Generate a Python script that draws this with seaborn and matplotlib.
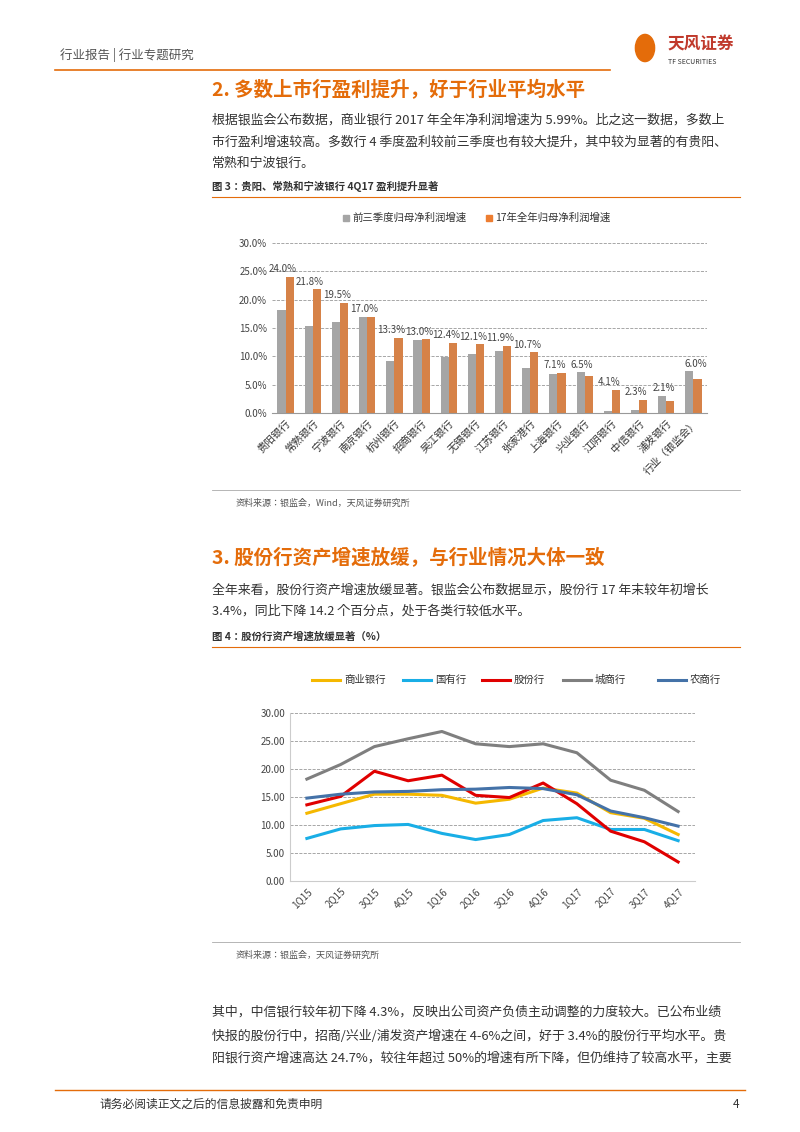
import matplotlib
matplotlib.use("Agg")
import matplotlib.pyplot as plt
from matplotlib import font_manager as fm
import seaborn as sns
import pandas as pd
import numpy as np

cjk = [f for f in fm.fontManager.ttflist if "CJK" in f.name]
names = sorted(set(f.name for f in cjk))
pick = next((n for n in names if n.endswith("SC")), names[0] if names else "DejaVu Sans")
plt.rcParams["font.family"] = [pick, "DejaVu Sans"]
print(names, pick)

banks = ["贵阳银行","常熟银行","宁波银行","南京银行","杭州银行","招商银行","吴江银行","无锡银行",
         "江苏银行","张家港行","上海银行","兴业银行","江阴银行","中信银行","浦发银行","行业（银监会）"]
q3_growth = [18.2,15.3,16.1,17.0,9.2,12.8,9.9,10.4,10.9,8.0,6.8,7.2,0.4,0.6,3.0,7.4]
fy_growth = [24.0,21.8,19.5,17.0,13.3,13.0,12.4,12.1,11.9,10.7,7.1,6.5,4.1,2.3,2.1,6.0]

quarters = ["1Q15","2Q15","3Q15","4Q15","1Q16","2Q16","3Q16","4Q16","1Q17","2Q17","3Q17","4Q17"]
commercial = [12.1,13.8,15.5,15.5,15.3,13.9,14.6,16.6,15.7,12.2,11.2,8.3]
state_owned = [7.6,9.3,9.9,10.1,8.5,7.4,8.3,10.8,11.3,9.2,9.2,7.2]
joint_stock = [13.6,15.1,19.6,17.9,18.9,15.3,14.9,17.5,13.8,8.9,7.0,3.4]
city = [18.2,20.8,24.0,25.4,26.7,24.5,24.0,24.5,22.9,18.0,16.2,12.4]
rural = [14.8,15.5,15.9,16.0,16.3,16.4,16.7,16.5,15.4,12.5,11.3,9.8]

W, H = 800, 1132
fig = plt.figure(figsize=(8, 11.32), dpi=100)
ORANGE = "#e46c0a"
def T(x, y, s, **kw):
    fig.text(x / W, 1 - y / H, s, va="center", **kw)
def HL(y, x0, x1, color, lw=0.8):
    fig.add_artist(plt.Line2D([x0 / W, x1 / W], [1 - y / H, 1 - y / H], color=color, lw=lw))

# header
T(60, 55, "行业报告 | 行业专题研究", fontsize=9, color="#555555")
HL(70, 55, 610, ORANGE, 1.2)
T(668, 45, "天风证券", fontsize=12, color="#c0392b", weight="bold")
T(668, 62, "TF SECURITIES", fontsize=5, color="#333333")
fig.add_artist(matplotlib.patches.Circle((645/W, 1-48/H), 0.012, transform=fig.transFigure, color=ORANGE))

# section 2
T(212, 90, "2. 多数上市行盈利提升，好于行业平均水平", fontsize=14, color=ORANGE, weight="bold")
for y, s in [(120, "根据银监会公布数据，商业银行 2017 年全年净利润增速为 5.99%。比之这一数据，多数上"),
             (142, "市行盈利增速较高。多数行 4 季度盈利较前三季度也有较大提升，其中较为显著的有贵阳、"),
             (163, "常熟和宁波银行。")]:
    T(212, y, s, fontsize=9.3, color="#333333")
T(212, 186, "图 3：贵阳、常熟和宁波银行 4Q17 盈利提升显著", fontsize=7.5, color="#333333", weight="bold")
HL(197, 212, 740, ORANGE, 0.8)

ax1 = fig.add_axes([272/W, 1-413/H, (707-272)/W, (413-243)/H])
df1 = pd.DataFrame({"bank": banks * 2,
                    "val": q3_growth + fy_growth,
                    "s": ["前三季度归母净利润增速"] * 16 + ["17年全年归母净利润增速"] * 16})
sns.barplot(data=df1, x="bank", y="val", hue="s", palette=["#a5a5a5", "#ed7d31"],
            width=0.6, ax=ax1, legend=False)
ax1.set_ylim(0, 30)
ax1.set_yticks(np.arange(0, 31, 5))
ax1.set_yticklabels([f"{v:.1f}%" for v in np.arange(0, 31, 5)], fontsize=7, color="#444")
ax1.set_xticks(range(16))
ax1.set_xticklabels(banks, rotation=45, ha="right", rotation_mode="anchor", fontsize=7.5, color="#333")
ax1.set_xlabel(""); ax1.set_ylabel("")
ax1.grid(axis="y", ls="--", color="#999", lw=0.6)
ax1.set_axisbelow(True)
for sp in ["top", "right", "left"]:
    ax1.spines[sp].set_visible(False)
ax1.spines["bottom"].set_color("#999")
ax1.tick_params(axis="y", length=0)
ax1.tick_params(axis="x", length=0)
for i, v in enumerate(fy_growth):
    ax1.text(i - 0.1 if i != 15 else i + 0.1, max(v, q3_growth[i]) + 0.8, f"{v:.1f}%", ha="center", fontsize=7, color="#444")
for xs, lab, c in [(352, "前三季度归母净利润增速", "#a5a5a5"), (495, "17年全年归母净利润增速", "#ed7d31")]:
    fig.add_artist(matplotlib.patches.Rectangle(((xs-9)/W, 1-221/H), 6/W, 6/H, transform=fig.transFigure, color=c))
    T(xs, 218, lab, fontsize=7.5, color="#333")
HL(490, 212, 740, "#aaaaaa", 0.6)
T(236, 503, "资料来源：银监会，Wind，天风证券研究所", fontsize=6.5, color="#555")

# section 3
T(212, 558, "3. 股份行资产增速放缓，与行业情况大体一致", fontsize=14, color=ORANGE, weight="bold")
T(212, 590, "全年来看，股份行资产增速放缓显著。银监会公布数据显示，股份行 17 年末较年初增长", fontsize=9.3, color="#333")
T(212, 611, "3.4%，同比下降 14.2 个百分点，处于各类行较低水平。", fontsize=9.3, color="#333")
T(212, 637, "图 4：股份行资产增速放缓显著（%）", fontsize=7.5, color="#333", weight="bold")
HL(647, 212, 740, ORANGE, 0.8)

ax2 = fig.add_axes([290/W, 1-881/H, (695-290)/W, (881-713)/H])
series = [("商业银行", commercial, "#f5b800"), ("国有行", state_owned, "#19aee6"),
          ("股份行", joint_stock, "#e00000"), ("城商行", city, "#7f7f7f"), ("农商行", rural, "#4472a8")]
df2 = pd.concat([pd.DataFrame({"q": quarters, "v": v, "s": n}) for n, v, c in series])
sns.lineplot(data=df2, x="q", y="v", hue="s", palette=[c for _, _, c in series], lw=2.2,
             ax=ax2, legend=False, sort=False)
ax2.set_ylim(0, 30)
ax2.set_xlim(-0.5, 11.5)
ax2.set_yticks(np.arange(0, 31, 5))
ax2.set_yticklabels([f"{v:.2f}" for v in np.arange(0, 31, 5)], fontsize=7, color="#444")
ax2.set_xticks(range(12))
ax2.set_xticklabels(quarters, rotation=45, ha="right", rotation_mode="anchor", fontsize=7, color="#444")
ax2.set_xlabel(""); ax2.set_ylabel("")
ax2.grid(axis="y", ls="--", color="#999", lw=0.6)
for sp in ["top", "right"]:
    ax2.spines[sp].set_visible(False)
ax2.spines["left"].set_color("#ccc"); ax2.spines["bottom"].set_color("#ccc")
ax2.tick_params(length=0)
lx = [312, 403, 482, 563, 658]
for (n, v, c), x in zip(series, lx):
    HL(680, x, x + 28, c, 2.2)
    T(x + 32, 680, n, fontsize=7.5, color="#333")
HL(942, 212, 740, "#aaaaaa", 0.6)
T(236, 955, "资料来源：银监会，天风证券研究所", fontsize=6.5, color="#555")

for y, s in [(1012, "其中，中信银行较年初下降 4.3%，反映出公司资产负债主动调整的力度较大。已公布业绩"),
             (1036, "快报的股份行中，招商/兴业/浦发资产增速在 4-6%之间，好于 3.4%的股份行平均水平。贵"),
             (1058, "阳银行资产增速高达 24.7%，较往年超过 50%的增速有所下降，但仍维持了较高水平，主要")]:
    T(212, y, s, fontsize=9.3, color="#333")
HL(1090, 55, 745, ORANGE, 1.0)
T(100, 1104, "请务必阅读正文之后的信息披露和免责申明", fontsize=8.5, color="#333")
T(733, 1104, "4", fontsize=8.5, color="#333")

fig.savefig("out.png", dpi=100)
